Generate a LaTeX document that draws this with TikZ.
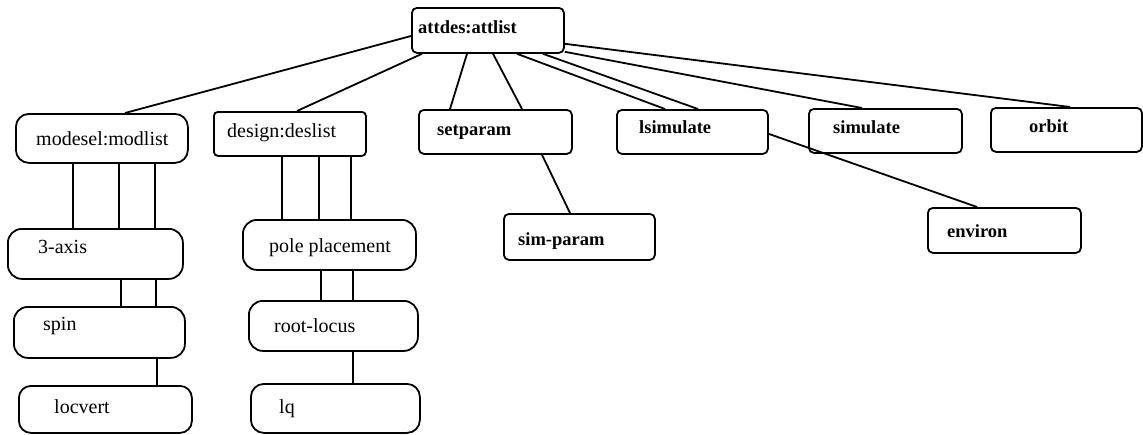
\documentclass[tikz,border=0pt]{standalone}
\usepackage{fontspec}
\setmainfont{Liberation Serif}
\usetikzlibrary{calc}
\begin{document}
\begin{tikzpicture}[x=1pt,y=-1pt,
  box/.style={draw, line width=1.8pt, inner sep=0pt, anchor=north west},
  lbl/.style={anchor=base west, inner sep=0pt, font=\fontsize{20}{22}\selectfont},
  blbl/.style={anchor=base west, inner sep=0pt, font=\fontsize{18.5}{20}\selectfont\bfseries},
  link/.style={line width=1.8pt}]
\useasboundingbox (0,0) rectangle (1143,434);
% boxes
\node[box, minimum width=152, minimum height=45, rounded corners=5] (attdes) at (411,7) {};
\node[box, minimum width=172, minimum height=49, rounded corners=13] (modesel) at (15,113) {};
\node[box, minimum width=152, minimum height=44, rounded corners=4] (design) at (213,111) {};
\node[box, minimum width=153, minimum height=44, rounded corners=5] (setparam) at (418,109) {};
\node[box, minimum width=151, minimum height=44, rounded corners=5] (lsim) at (616,109) {};
\node[box, minimum width=153, minimum height=44, rounded corners=5] (sim) at (808,108) {};
\node[box, minimum width=151, minimum height=44, rounded corners=5] (orbit) at (990,107) {};
\node[box, minimum width=153, minimum height=45, rounded corners=5] (environ) at (927,207) {};
\node[box, minimum width=151, minimum height=46, rounded corners=5] (simparam) at (503,213) {};
\node[box, minimum width=175, minimum height=50, rounded corners=14] (axis) at (7,228) {};
\node[box, minimum width=171, minimum height=51, rounded corners=14] (spin) at (13,306) {};
\node[box, minimum width=173, minimum height=47, rounded corners=12] (locvert) at (18,385) {};
\node[box, minimum width=173, minimum height=50, rounded corners=14] (pole) at (242,219) {};
\node[box, minimum width=169, minimum height=50, rounded corners=14] (root) at (248,300) {};
\node[box, minimum width=169, minimum height=49, rounded corners=13] (lq) at (250,383) {};
% texts
\node[blbl] (attdes-t) at (418,33) {attdes:attlist};
\node[lbl] (modesel-t) at (36,145) {modesel:modlist};
\node[lbl] (design-t) at (227,137) {design:deslist};
\node[blbl] (setparam-t) at (437,135) {setparam};
\node[blbl] (lsim-t) at (639,133) {lsimulate};
\node[blbl] (sim-t) at (833,133) {simulate};
\node[blbl] (orbit-t) at (1029,132) {orbit};
\node[blbl] (environ-t) at (947,237) {environ};
\node[blbl] (simparam-t) at (518,245) {sim-param};
\node[lbl] (axis-t) at (38,253) {3-axis};
\node[lbl] (spin-t) at (43,330) {spin};
\node[lbl] (locvert-t) at (54,413) {locvert};
\node[lbl] (pole-t) at (269,252) {pole placement};
\node[lbl] (root-t) at (274,332) {root-locus};
\node[lbl] (lq-t) at (279,413) {lq};
% connectors from attdes
\draw[link] ([yshift=-29pt]attdes.north west) -- ([xshift=110pt]modesel.north west);
\draw[link] ([xshift=11pt]attdes.south west) -- ([xshift=84pt]design.north west);
\draw[link] ([xshift=56pt]attdes.south west) -- ([xshift=32pt]setparam.north west);
\draw[link] ([xshift=82pt]attdes.south west) -- ([xshift=104pt]setparam.north west);
\draw[link] ([xshift=106pt]attdes.south west) -- ([xshift=49pt]lsim.north west);
\draw[link] ([xshift=132pt]attdes.south west) -- ([xshift=82pt]lsim.north west);
\draw[link] ([yshift=2pt]attdes.south east) -- ([xshift=54pt]sim.north west);
\draw[link] ([yshift=10pt]attdes.south east) -- ([xshift=80pt]orbit.north west);
\draw[link] ([yshift=-2pt]lsim.east) -- ([xshift=50pt]environ.north west);
\draw[link] ([xshift=124pt]setparam.south west) -- ([xshift=67pt]simparam.north west);
% vertical links
\foreach \dx in {58,104,140}
  \draw[link] ([xshift=\dx pt]modesel.south west) -- ([xshift=\dx pt]modesel.south west |- axis.north);
\foreach \dx in {114,149}
  \draw[link] ([xshift=\dx pt]axis.south west) -- ([xshift=\dx pt]axis.south west |- spin.north);
\draw[link] ([xshift=144pt]spin.south west) -- ([xshift=144pt]spin.south west |- locvert.north);
\foreach \dx in {69,106,138}
  \draw[link] ([xshift=\dx pt]design.south west) -- ([xshift=\dx pt]design.south west |- pole.north);
\foreach \dx in {79,111}
  \draw[link] ([xshift=\dx pt]pole.south west) -- ([xshift=\dx pt]pole.south west |- root.north);
\draw[link] ([xshift=105pt]root.south west) -- ([xshift=105pt]root.south west |- lq.north);
\end{tikzpicture}
\end{document}
